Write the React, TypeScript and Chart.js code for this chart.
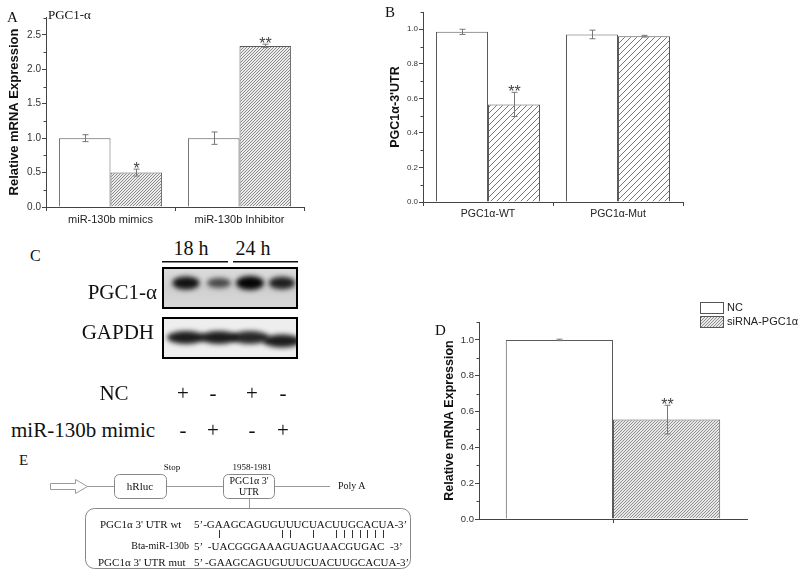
import React, { useEffect, useRef, useMemo } from "react";
import { Chart, registerables } from "chart.js";
Chart.register(...registerables);

// ---------- Panel A data ----------
const aCategories = ["miR-130b mimics", "miR-130b Inhibitor"];
const aControl = [1.0, 1.0];
const aTreated = [0.5, 2.34];
const aControlErr = [0.05, 0.09];
const aTreatedErr = [0.05, 0.025];
const aStars = ["*", "**"];
const aTicks = [0, 0.5, 1.0, 1.5, 2.0, 2.5];

// ---------- Panel B data ----------
const bCategories = ["PGC1α-WT", "PGC1α-Mut"];
const bControl = [0.985, 0.97];
const bTreated = [0.565, 0.96];
const bControlErr = [0.015, 0.025];
const bTreatedErr = [0.07, 0.005];
const bStars = ["**", ""];
const bTicks = [0, 0.2, 0.4, 0.6, 0.8, 1.0];

// ---------- Panel D data ----------
const dSeries = ["NC", "siRNA-PGC1α"];
const dValues = [1.0, 0.555];
const dErr = [0.004, 0.08];
const dStars = ["", "**"];
const dTicks = [0, 0.2, 0.4, 0.6, 0.8, 1.0];

// ---------- Panel C (western blot) ----------
const blotTimes = ["18 h", "24 h"];
const blotNC = ["+", "-", "+", "-"];
const blotMimic = ["-", "+", "-", "+"];
const pgcIntensity = [0.9, 0.5, 1.0, 0.8];
const gapdhIntensity = [1.0, 1.0, 0.95, 1.0];

// ---------- Panel E ----------
const seqWt = "5’-GAAGCAGUGUUUCUACUUGCACUA-3’";
const seqMir = "5’  -UACGGGAAAGUAGUAACGUGAC  -3’";
const seqMut = "5’ -GAAGCAGUGUUUCUACUUGCACUA-3’";
const pairIdx = [4, 12, 13, 16, 19, 20, 21, 22, 23, 24, 25];

const SANS = '"Liberation Sans", Arial, sans-serif';
const SERIF = '"Liberation Serif", "Times New Roman", serif';

function hatch(spacing: number, line: string, bg: string, lw = 1) {
  const c = document.createElement("canvas");
  c.width = spacing;
  c.height = spacing;
  const g = c.getContext("2d")!;
  g.fillStyle = bg;
  g.fillRect(0, 0, spacing, spacing);
  g.strokeStyle = line;
  g.lineWidth = lw;
  g.beginPath();
  g.moveTo(-1, spacing + 1);
  g.lineTo(spacing + 1, -1);
  g.moveTo(-1, 1);
  g.lineTo(1, -1);
  g.moveTo(spacing - 1, spacing + 1);
  g.lineTo(spacing + 1, spacing - 1);
  g.stroke();
  return g.createPattern(c, "repeat")!;
}

const errorBarPlugin = {
  id: "errorBars",
  afterDatasetsDraw(chart: any, _a: any, opts: any) {
    const ctx = chart.ctx;
    const ys = chart.scales.y;
    chart.data.datasets.forEach((ds: any, i: number) => {
      const meta = chart.getDatasetMeta(i);
      meta.data.forEach((el: any, j: number) => {
        const v = ds.data[j];
        const e = ds.errors ? ds.errors[j] : 0;
        const x = Math.round(el.x) + 0.5;
        const yt = ys.getPixelForValue(v + e);
        const yb = ys.getPixelForValue(v - e);
        ctx.save();
        ctx.strokeStyle = opts.color || "#666";
        ctx.lineWidth = 1;
        ctx.beginPath();
        ctx.moveTo(x, yt);
        ctx.lineTo(x, yb);
        ctx.moveTo(x - 3, yt);
        ctx.lineTo(x + 3, yt);
        ctx.moveTo(x - 3, yb);
        ctx.lineTo(x + 3, yb);
        ctx.stroke();
        const s = ds.stars ? ds.stars[j] : "";
        if (s) {
          ctx.fillStyle = "#444";
          ctx.font = `16px ${SANS}`;
          ctx.textAlign = "center";
          ctx.textBaseline = "alphabetic";
          ctx.fillText(s, x, yt + 5);
        }
        ctx.restore();
      });
    });
  },
};

const minorTickPlugin = {
  id: "minorTicks",
  afterDraw(chart: any, _a: any, opts: any) {
    const s = chart.scales.y;
    const ctx = chart.ctx;
    const x0 = chart.chartArea.left;
    ctx.save();
    ctx.strokeStyle = "#444";
    ctx.lineWidth = 1;
    ctx.beginPath();
    for (let v = opts.step; v <= s.max + 1e-9; v += opts.step) {
      const r = v / opts.major;
      if (Math.abs(r - Math.round(r)) < 1e-6) continue;
      const y = Math.round(s.getPixelForValue(v)) + 0.5;
      ctx.moveTo(x0 - 2.5, y);
      ctx.lineTo(x0, y);
    }
    ctx.stroke();
    ctx.restore();
  },
};

const boxLegendPlugin = {
  id: "boxLegend",
  afterDraw(chart: any, _a: any, opts: any) {
    if (!opts || !opts.show) return;
    const ctx = chart.ctx;
    ctx.save();
    chart.data.datasets.forEach((ds: any, i: number) => {
      const y = opts.y + i * (opts.h + opts.gap);
      ctx.fillStyle = ds.backgroundColor;
      ctx.fillRect(opts.x, y, opts.w, opts.h);
      ctx.strokeStyle = "#555";
      ctx.lineWidth = 1;
      ctx.strokeRect(opts.x + 0.5, y + 0.5, opts.w, opts.h);
      ctx.fillStyle = "#222";
      ctx.font = `${opts.size}px ${SANS}`;
      ctx.textAlign = "left";
      ctx.textBaseline = "middle";
      ctx.fillText(ds.label, opts.x + opts.w + 4, y + opts.h / 2 + 0.5);
    });
    ctx.restore();
  },
};

type BarOpts = {
  labels: string[];
  datasets: any[];
  yMax: number;
  ticks: number[];
  minorStep: number;
  major: number;
  yTitle: string;
  yTitleSize: number;
  tickSize: number;
  xTickSize: number;
  pad: { left: number; right: number; top: number; bottom: number };
  yWidth: number;
  xHeight: number;
  gridOffset: boolean;
  legend?: any;
};

function makeBar(o: BarOpts) {
  return {
    type: "bar",
    data: {
      labels: o.labels,
      datasets: o.datasets.map((d) => ({
        borderColor: "#5a5a5a",
        borderWidth: 1,
        categoryPercentage: 0.8,
        barPercentage: 1.0,
        ...d,
      })),
    },
    options: {
      responsive: false,
      animation: false,
      devicePixelRatio: 1,
      layout: { padding: o.pad },
      plugins: {
        legend: { display: false },
        tooltip: { enabled: false },
        errorBars: { color: "#777" },
        minorTicks: { step: o.minorStep, major: o.major },
        boxLegend: o.legend || { show: false },
      },
      scales: {
        x: {
          offset: true,
          grid: { offset: o.gridOffset, drawOnChartArea: false, tickLength: 4, color: "#444" },
          border: { color: "#444", width: 1 },
          ticks: { font: { family: SANS, size: o.xTickSize }, color: "#222", padding: 2, maxRotation: 0 },
          afterFit: (s: any) => {
            s.height = o.xHeight;
          },
        },
        y: {
          min: 0,
          max: o.yMax,
          afterBuildTicks: (s: any) => {
            s.ticks = o.ticks.map((v) => ({ value: v }));
          },
          afterFit: (s: any) => {
            s.width = o.yWidth;
          },
          grid: { drawOnChartArea: false, tickLength: 4, color: "#444" },
          border: { color: "#444", width: 1 },
          ticks: {
            font: { family: SANS, size: o.tickSize },
            color: "#333",
            padding: 1,
            callback: (v: any) => Number(v).toFixed(1),
          },
          title: {
            display: true,
            text: o.yTitle,
            font: { family: SANS, size: o.yTitleSize, weight: "bold" },
            color: "#111",
            padding: { top: 0, bottom: 0 },
          },
        },
      },
    },
    plugins: [errorBarPlugin, minorTickPlugin, boxLegendPlugin],
  } as any;
}

function ChartBox(props: { left: number; top: number; width: number; height: number; build: () => any }) {
  const ref = useRef<HTMLCanvasElement>(null);
  useEffect(() => {
    const chart = new Chart(ref.current!, props.build());
    return () => chart.destroy();
  }, []);
  return (
    <canvas
      ref={ref}
      width={props.width}
      height={props.height}
      style={{ position: "absolute", left: props.left, top: props.top, width: props.width, height: props.height }}
    />
  );
}

function T(props: { x: number; y: number; s: number; f?: string; a?: string; w?: any; c?: string; children: any }) {
  const a = props.a || "left";
  const tx = a === "left" ? "0" : a === "center" ? "-50%" : "-100%";
  return (
    <div
      style={{
        position: "absolute",
        left: props.x,
        top: props.y,
        transform: `translate(${tx},-50%)`,
        fontFamily: props.f || SERIF,
        fontSize: props.s,
        lineHeight: 1,
        whiteSpace: "pre",
        color: props.c || "#111",
        fontWeight: props.w,
      }}
    >
      {props.children}
    </div>
  );
}

function Blot() {
  const ref = useRef<HTMLCanvasElement>(null);
  useEffect(() => {
    const ctx = ref.current!.getContext("2d")!;
    ctx.translate(-150, -255);
    ctx.fillStyle = "#111";
    ctx.fillRect(162, 261, 66, 1.5);
    ctx.fillRect(233, 261, 65, 1.5);
    const lanes = [186, 219, 250, 282];
    ctx.save();
    const g1 = ctx.createLinearGradient(0, 268, 0, 308);
    g1.addColorStop(0, "#dcdcdc");
    g1.addColorStop(0.5, "#cfcfcf");
    g1.addColorStop(1, "#d8d8d8");
    ctx.fillStyle = g1;
    ctx.fillRect(163, 268, 134, 40);
    ctx.beginPath();
    ctx.rect(163, 268, 134, 40);
    ctx.clip();
    ctx.filter = "blur(2.5px)";
    pgcIntensity.forEach((v, i) => {
      ctx.fillStyle = `rgba(5,5,5,${0.35 + 0.65 * v})`;
      ctx.beginPath();
      ctx.ellipse(lanes[i], 283, 10 + 4 * v, 3 + 4 * v, 0, 0, Math.PI * 2);
      ctx.fill();
    });
    ctx.restore();
    ctx.strokeStyle = "#000";
    ctx.lineWidth = 2;
    ctx.strokeRect(163, 268, 134, 40);
    ctx.save();
    ctx.fillStyle = "#eeeeee";
    ctx.fillRect(163, 318, 134, 40);
    ctx.beginPath();
    ctx.rect(163, 318, 134, 40);
    ctx.clip();
    ctx.filter = "blur(2.5px)";
    gapdhIntensity.forEach((v, i) => {
      ctx.fillStyle = `rgba(5,5,5,${0.9 * v})`;
      ctx.beginPath();
      ctx.ellipse(lanes[i], i === 3 ? 341 : 337.5, 19, 6.5, 0, 0, Math.PI * 2);
      ctx.fill();
    });
    ctx.restore();
    ctx.strokeStyle = "#000";
    ctx.lineWidth = 2;
    ctx.strokeRect(163, 318, 134, 40);
  }, []);
  return <canvas ref={ref} width={160} height={110} style={{ position: "absolute", left: 150, top: 255 }} />;
}

function Diagram() {
  const ref = useRef<HTMLCanvasElement>(null);
  const pairX = useMemo(() => {
    const c = document.createElement("canvas").getContext("2d")!;
    c.font = `11px ${SERIF}`;
    return pairIdx.map((i) => 194 + c.measureText(seqWt.slice(0, i)).width + c.measureText(seqWt[i]).width / 2);
  }, []);
  useEffect(() => {
    const ctx = ref.current!.getContext("2d")!;
    ctx.translate(0, -455);
    ctx.strokeStyle = "#9a9a9a";
    ctx.lineWidth = 1;
    ctx.beginPath();
    ctx.moveTo(50.5, 483.5);
    ctx.lineTo(75.5, 483.5);
    ctx.lineTo(75.5, 479.5);
    ctx.lineTo(87.5, 486.5);
    ctx.lineTo(75.5, 493.5);
    ctx.lineTo(75.5, 489.5);
    ctx.lineTo(50.5, 489.5);
    ctx.closePath();
    ctx.stroke();
    ctx.beginPath();
    ctx.moveTo(87, 486.5);
    ctx.lineTo(114, 486.5);
    ctx.moveTo(166, 486.5);
    ctx.lineTo(223, 486.5);
    ctx.moveTo(274, 486.5);
    ctx.lineTo(330, 486.5);
    ctx.moveTo(249.5, 498);
    ctx.lineTo(249.5, 508);
    ctx.stroke();
    ctx.strokeStyle = "#888";
    ctx.beginPath();
    (ctx as any).roundRect(114.5, 474.5, 52, 24, 5);
    ctx.stroke();
    ctx.beginPath();
    (ctx as any).roundRect(223.5, 474.5, 51, 24, 5);
    ctx.stroke();
    ctx.beginPath();
    (ctx as any).roundRect(85.5, 508.5, 325, 60, 9);
    ctx.stroke();
    ctx.strokeStyle = "#333";
    ctx.beginPath();
    pairX.forEach((x) => {
      const xx = Math.round(x) + 0.5;
      ctx.moveTo(xx, 530);
      ctx.lineTo(xx, 538);
    });
    ctx.stroke();
  }, []);
  return <canvas ref={ref} width={420} height={116} style={{ position: "absolute", left: 0, top: 455 }} />;
}

export default function App() {
  const laneX = [183, 213, 252, 283];
  return (
    <div style={{ position: "fixed", left: 0, top: 0, width: 800, height: 571, background: "#fff", overflow: "hidden" }}>
      {/* Panel A */}
      <ChartBox
        left={0}
        top={0}
        width={310}
        height={230}
        build={() =>
          makeBar({
            labels: aCategories,
            datasets: [
              { label: "NC", data: aControl, errors: aControlErr, backgroundColor: "#ffffff" },
              { label: "Treated", data: aTreated, errors: aTreatedErr, stars: aStars, backgroundColor: hatch(3, "#8a8a8a", "#ececec") },
            ],
            yMax: 2.76,
            ticks: aTicks,
            minorStep: 0.25,
            major: 0.5,
            yTitle: "Relative mRNA Expression",
            yTitleSize: 13,
            tickSize: 10,
            xTickSize: 11,
            pad: { left: 7, right: 6, top: 17, bottom: 0 },
            yWidth: 39,
            xHeight: 23,
            gridOffset: true,
          })
        }
      />
      <T x={7} y={17} s={15}>A</T>
      <T x={48} y={14} s={13}>PGC1-α</T>

      {/* Panel B */}
      <ChartBox
        left={380}
        top={0}
        width={310}
        height={230}
        build={() =>
          makeBar({
            labels: bCategories,
            datasets: [
              { label: "NC", data: bControl, errors: bControlErr, backgroundColor: "#ffffff" },
              { label: "mimic", data: bTreated, errors: bTreatedErr, stars: bStars, backgroundColor: hatch(6, "#777777", "#ffffff") },
            ],
            yMax: 1.1,
            ticks: bTicks,
            minorStep: 0.1,
            major: 0.2,
            yTitle: "PGC1α-3'UTR",
            yTitleSize: 12.5,
            tickSize: 8,
            xTickSize: 10.5,
            pad: { left: 8, right: 7, top: 12, bottom: 0 },
            yWidth: 35,
            xHeight: 28,
            gridOffset: true,
          })
        }
      />
      <T x={385} y={12} s={15}>B</T>

      {/* Panel C */}
      <T x={30} y={256} s={16}>C</T>
      <T x={191} y={248} s={20} a="center">{blotTimes[0]}</T>
      <T x={253} y={248} s={20} a="center">{blotTimes[1]}</T>
      <Blot />
      <T x={157} y={292} s={21} a="right">PGC1-α</T>
      <T x={154} y={332} s={21} a="right">GAPDH</T>
      <T x={114} y={393} s={21} a="center">NC</T>
      <T x={11} y={430} s={21}>miR-130b mimic</T>
      {blotNC.map((s, i) => (
        <T key={"n" + i} x={laneX[i]} y={393} s={21} a="center">{s}</T>
      ))}
      {blotMimic.map((s, i) => (
        <T key={"m" + i} x={laneX[i]} y={430} s={21} a="center">{s}</T>
      ))}

      {/* Panel D */}
      <ChartBox
        left={400}
        top={280}
        width={400}
        height={291}
        build={() =>
          makeBar({
            labels: [""],
            datasets: [
              { label: dSeries[0], data: [dValues[0]], errors: [dErr[0]], stars: [dStars[0]], backgroundColor: "#ffffff" },
              { label: dSeries[1], data: [dValues[1]], errors: [dErr[1]], stars: [dStars[1]], backgroundColor: hatch(3, "#909090", "#e8e8e8") },
            ],
            yMax: 1.1,
            ticks: dTicks,
            minorStep: 0.1,
            major: 0.2,
            yTitle: "Relative mRNA Expression",
            yTitleSize: 12.5,
            tickSize: 9.5,
            xTickSize: 10,
            pad: { left: 42, right: 53, top: 42, bottom: 0 },
            yWidth: 37,
            xHeight: 52,
            gridOffset: false,
            legend: { show: true, x: 300, y: 22, w: 23, h: 11, gap: 3, size: 11 },
          })
        }
      />
      <T x={435} y={330} s={15}>D</T>

      {/* Panel E */}
      <T x={19} y={460} s={15}>E</T>
      <Diagram />
      <T x={172} y={467} s={9} a="center">Stop</T>
      <T x={252} y={467} s={9} a="center">1958-1981</T>
      <T x={140} y={486} s={11} a="center">hRluc</T>
      <T x={249} y={481} s={10} a="center">PGC1α 3'</T>
      <T x={249} y={492} s={10} a="center">UTR</T>
      <T x={338} y={486} s={10}>Poly A</T>
      <T x={100} y={524} s={11}>PGC1α 3' UTR wt</T>
      <T x={194} y={524} s={11}>{seqWt}</T>
      <T x={189} y={546} s={10} a="right">Bta-miR-130b</T>
      <T x={194} y={546} s={11}>{seqMir}</T>
      <T x={98} y={562} s={11}>PGC1α 3' UTR mut</T>
      <T x={194} y={562} s={11}>{seqMut}</T>
    </div>
  );
}
